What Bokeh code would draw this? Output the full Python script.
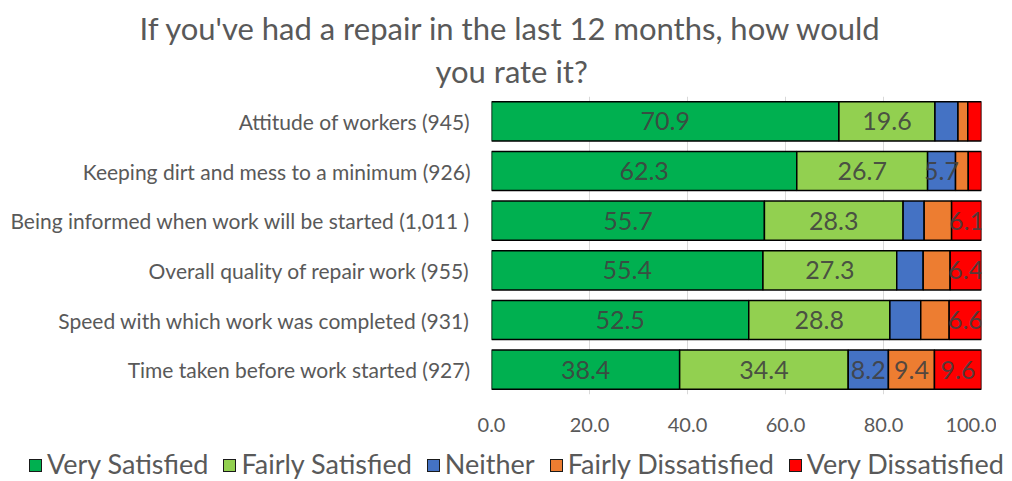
from bokeh.plotting import figure
from bokeh.layouts import column
from bokeh.models import (ColumnDataSource, FactorRange, Range1d, FixedTicker,
                          CustomJSTickFormatter, Title, Div)
from bokeh.embed import file_html
from bokeh.resources import INLINE
from bokeh.core.properties import value

categories = [
    "Attitude of workers (945)",
    "Keeping dirt and mess to a minimum (926)",
    "Being informed when work will be started (1,011 )",
    "Overall quality of repair work (955)",
    "Speed with which work was completed (931)",
    "Time taken before work started (927)",
]
series = ["Very Satisfied", "Fairly Satisfied", "Neither", "Fairly Dissatisfied", "Very Dissatisfied"]
very_satisfied = [70.9, 62.3, 55.7, 55.4, 52.5, 38.4]
fairly_satisfied = [19.6, 26.7, 28.3, 27.3, 28.8, 34.4]
neither = [4.7, 5.7, 4.3, 5.4, 6.3, 8.2]
fairly_dissatisfied = [2.0, 2.6, 5.6, 5.5, 5.8, 9.4]
very_dissatisfied = [2.8, 2.7, 6.1, 6.4, 6.6, 9.6]
# which data labels are shown in the original
show_very_satisfied = [True, True, True, True, True, True]
show_fairly_satisfied = [True, True, True, True, True, True]
show_neither = [False, True, False, False, False, True]
show_fairly_dissatisfied = [False, False, False, False, False, True]
show_very_dissatisfied = [False, False, True, True, True, True]
x_ticks = [0, 20, 40, 60, 80, 100]
title_lines = ["If you've had a repair in the last 12 months, how would", "you rate it?"]

colors = ["#00B050", "#92D050", "#4472C4", "#ED7D31", "#FF0000"]
FONT = "Lato"
TXT = "#595959"
W = 996

values_list = [very_satisfied, fairly_satisfied, neither, fairly_dissatisfied, very_dissatisfied]
shows = [show_very_satisfied, show_fairly_satisfied, show_neither, show_fairly_dissatisfied, show_very_dissatisfied]

data = {"cat": categories}
for s, v in zip(series, values_list):
    data[s] = v
src = ColumnDataSource(data)

p = figure(
    width=W, height=440,
    y_range=FactorRange(factors=list(reversed(categories))),
    x_range=Range1d(0, 100),
    output_backend="svg", toolbar_location=None,
    min_border_left=491, min_border_right=15, min_border_top=96, min_border_bottom=46,
)
p.title = None
p.outline_line_color = None

p.hbar_stack(series, y="cat", height=0.79, color=colors, source=src,
             line_color="black", line_width=1.5)

lx, ly, lt = [], [], []
left = [0.0] * len(categories)
for v, sh in zip(values_list, shows):
    for i, c in enumerate(categories):
        if sh[i]:
            lx.append(left[i] + v[i] / 2)
            ly.append(c)
            lt.append(f"{v[i]:.1f}")
        left[i] += v[i]
lsrc = ColumnDataSource(dict(x=lx, y=ly, t=lt))
p.text(x="x", y="y", text="t", source=lsrc, text_align="center", text_baseline="middle",
       text_font=value(FONT), text_font_size="25px", text_color="#404040", text_alpha=0.9)

p.xaxis.ticker = FixedTicker(ticks=x_ticks)
p.xaxis.formatter = CustomJSTickFormatter(code="return tick.toFixed(1);")
p.xaxis.axis_line_color = None
p.xaxis.major_tick_line_color = None
p.xaxis.minor_tick_line_color = None
p.xaxis.major_label_standoff = 17
p.xaxis.major_label_text_font = FONT
p.xaxis.major_label_text_font_size = "20px"
p.xaxis.major_label_text_color = TXT

p.yaxis.axis_line_color = None
p.yaxis.major_tick_line_color = None
p.yaxis.minor_tick_line_color = None
p.yaxis.major_label_standoff = 15
p.yaxis.major_label_text_font = FONT
p.yaxis.major_label_text_font_size = "21px"
p.yaxis.major_label_text_color = TXT

p.ygrid.grid_line_color = None
p.xgrid.ticker = FixedTicker(ticks=x_ticks)
p.xgrid.grid_line_color = "#D9D9D9"
p.xgrid.grid_line_width = 1

# titles (second line nearest the frame)
t2 = Title(text=title_lines[1], align="left", offset=-56, vertical_align="top",
           text_font=FONT, text_font_size="31px", text_color=TXT,
           text_font_style="normal", standoff=10)
t1 = Title(text=title_lines[0], align="left", offset=-352, vertical_align="bottom",
           text_font=FONT, text_font_size="31px", text_color=TXT,
           text_font_style="normal", standoff=0)
p.add_layout(t2, "above")
p.add_layout(t1, "above")

# legend row
parts = []
for s, c in zip(series, colors):
    parts.append(
        f'<span style="display:inline-block;flex:none;width:13px;height:13px;background:{c};'
        f'border:1.5px solid #1a1a1a;margin-right:5px;position:relative;top:2px"></span>'
        f'<span style="flex:none;margin-right:15px;line-height:1">{s}</span>'
    )
legend_html = (
    f'<div style="font-family:{FONT};font-size:27px;color:{TXT};white-space:nowrap;'
    f'display:flex;align-items:center;box-sizing:border-box;height:40px;'
    f'padding-left:29px;padding-top:6px">' + "".join(parts) + "</div>"
)
legend_div = Div(text=legend_html, width=W, height=40, margin=0)

layout = column(p, legend_div, spacing=0)
open("out.html", "w").write(file_html(layout, INLINE))
